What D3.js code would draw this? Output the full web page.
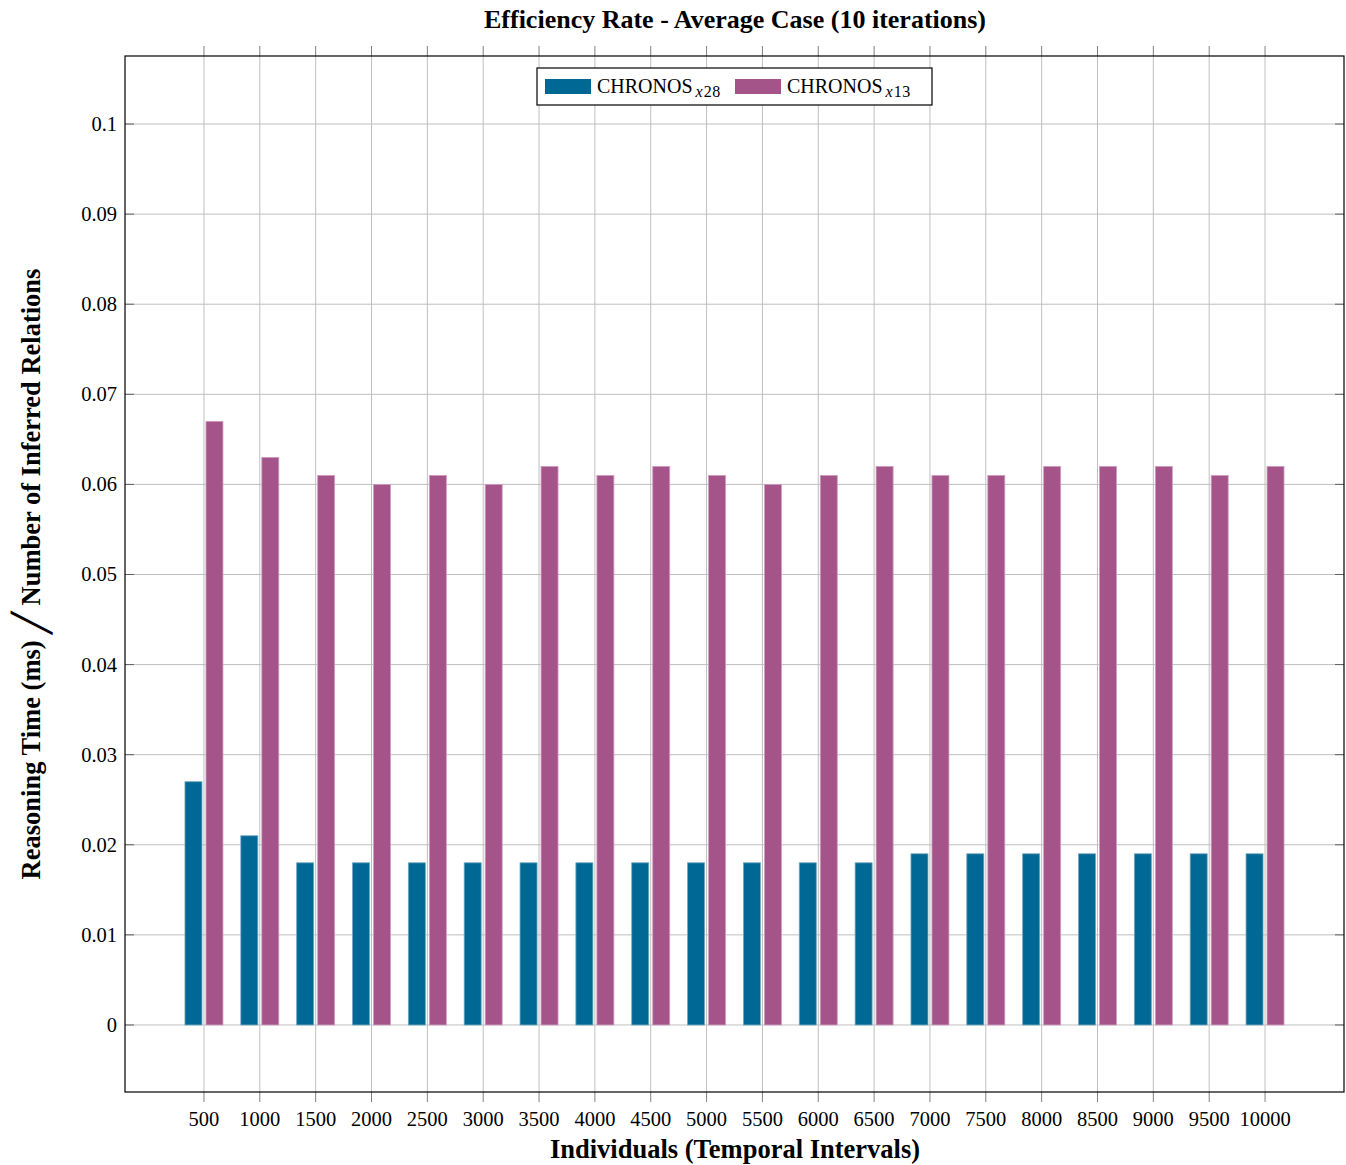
<!DOCTYPE html>
<html><head><meta charset="utf-8">
<script src="https://cdn.jsdelivr.net/npm/d3@7"></script>
<style>body{margin:0;background:#fff}svg{display:block}text{font-family:"Liberation Serif","DejaVu Serif",serif;fill:#000}</style>
</head><body><svg id="c" width="1346" height="1165"></svg>
<script>
const individuals=[500,1000,1500,2000,2500,3000,3500,4000,4500,5000,5500,6000,6500,7000,7500,8000,8500,9000,9500,10000];
const chronosX28=[0.027,0.021,0.018,0.018,0.018,0.018,0.018,0.018,0.018,0.018,0.018,0.018,0.018,0.019,0.019,0.019,0.019,0.019,0.019,0.019];
const chronosX13=[0.067,0.063,0.061,0.060,0.061,0.060,0.062,0.061,0.062,0.061,0.060,0.061,0.062,0.061,0.061,0.062,0.062,0.062,0.061,0.062];
const yTicks=[0,0.01,0.02,0.03,0.04,0.05,0.06,0.07,0.08,0.09,0.1];
const seriesNames=["x28","x13"];
const colors=["#006895","#a5548a"];

const svg=d3.select("#c");
const L=125,R=1344,T=56,B=1092;
const x=d3.scaleLinear().domain([-207,10707]).range([L,R]);
const y=d3.scaleLinear().domain([-0.00744,0.10755]).range([B,T]);

// grid
const g=svg.append("g");
g.selectAll(".hg").data(yTicks).join("line").attr("x1",L).attr("x2",R).attr("y1",d=>y(d)).attr("y2",d=>y(d)).attr("stroke","#bfbfbf").attr("stroke-width",1);
g.selectAll(".vg").data(individuals).join("line").attr("x1",d=>x(d)).attr("x2",d=>x(d)).attr("y1",T).attr("y2",B).attr("stroke","#bfbfbf").attr("stroke-width",1);

// bars
const bw=17, gap=2;
const series=[chronosX28,chronosX13];
series.forEach((vals,si)=>{
  svg.append("g").selectAll("rect").data(vals).join("rect")
    .attr("x",(d,i)=>si===0? x(individuals[i])-gap-bw : x(individuals[i])+gap)
    .attr("width",bw)
    .attr("y",d=>y(d)).attr("height",d=>y(0)-y(d))
    .attr("fill",colors[si]).attr("stroke",si===0?"#6fa7bf":"#cf9dbf").attr("stroke-width",0.8);
});

// axes ticks
const ax=svg.append("g");
ax.selectAll(".xtb").data(individuals).join("line").attr("x1",d=>x(d)).attr("x2",d=>x(d)).attr("y1",B).attr("y2",B+10).attr("stroke","#808080");
ax.selectAll(".xtt").data(individuals).join("line").attr("x1",d=>x(d)).attr("x2",d=>x(d)).attr("y1",T).attr("y2",T-10).attr("stroke","#808080");
ax.selectAll(".ytl").data(yTicks).join("line").attr("x1",L).attr("x2",L+9).attr("y1",d=>y(d)).attr("y2",d=>y(d)).attr("stroke","#606060");
ax.selectAll(".ytr").data(yTicks).join("line").attr("x1",R).attr("x2",R-9).attr("y1",d=>y(d)).attr("y2",d=>y(d)).attr("stroke","#606060");
ax.selectAll(".xl").data(individuals).join("text").attr("x",d=>x(d)).attr("y",1126).attr("text-anchor","middle").attr("font-size",20.5).text(d=>d);
ax.selectAll(".yl").data(yTicks).join("text").attr("x",117).attr("y",d=>y(d)+7).attr("text-anchor","end").attr("font-size",20.5).text(d=>d===0?"0":String(+d.toFixed(2)));

// frame
svg.append("rect").attr("x",L).attr("y",T).attr("width",R-L).attr("height",B-T).attr("fill","none").attr("stroke","#000").attr("stroke-width",1.2);

// titles
svg.append("text").attr("x",735).attr("y",28).attr("text-anchor","middle").attr("font-size",26).attr("font-weight","bold").text("Efficiency Rate - Average Case (10 iterations)");
svg.append("text").attr("x",735).attr("y",1158).attr("text-anchor","middle").attr("font-size",26.5).attr("font-weight","bold").text("Individuals (Temporal Intervals)");
const yl=svg.append("text").attr("transform","translate(40,574) rotate(-90)").attr("text-anchor","middle").attr("font-size",26.5).attr("font-weight","bold");
yl.append("tspan").text("Reasoning Time (ms) ");
yl.append("tspan").attr("font-size",36).attr("font-weight","normal").attr("dy",4).text("╱");
yl.append("tspan").attr("dy",-4).text(" Number of Inferred Relations");

// legend
const lg=svg.append("g");
lg.append("rect").attr("x",537).attr("y",68).attr("width",395).attr("height",37).attr("fill","#fff").attr("stroke","#000").attr("stroke-width",1.2);
const lx=[545,735];
seriesNames.forEach((s,i)=>{
  lg.append("rect").attr("x",lx[i]).attr("y",79).attr("width",46).attr("height",15).attr("fill",colors[i]);
  const t=lg.append("text").attr("x",lx[i]+52).attr("y",93).attr("font-size",20);
  t.append("tspan").text("CHRONOS");
  t.append("tspan").attr("font-style","italic").attr("font-size",16).attr("dx",3).attr("dy",4).text(s[0]);
  t.append("tspan").attr("font-size",16).attr("dx",1).attr("letter-spacing",0.5).text(s.slice(1));
});
</script></body></html>
